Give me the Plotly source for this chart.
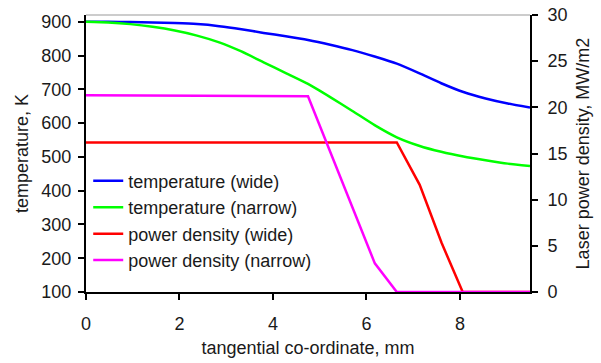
import plotly.graph_objects as go

# Data
x_temp = [0, 0.475, 0.95, 1.425, 1.9, 2.375, 2.85, 3.325, 3.8, 4.275, 4.75,
          5.225, 5.7, 6.175, 6.65, 7.125, 7.6, 8.075, 8.55, 9.025, 9.5]
temp_wide = [900, 900, 899, 898, 896, 893, 887, 878, 867, 857, 846,
             832, 816, 797, 776, 748, 718, 692, 673, 658, 646]
temp_narrow = [900, 898, 893, 885, 874, 859, 839, 812, 780, 748, 716,
               677, 636, 594, 558, 533, 515, 501, 490, 480, 473]

x_pw_wide = [0, 6.65, 7.14, 7.61, 8.06, 9.5]
pw_wide = [16.2, 16.2, 11.6, 5.3, 0, 0]
x_pw_narrow = [0, 4.75, 6.18, 6.65, 9.5]
pw_narrow = [21.3, 21.2, 3.1, 0, 0]

FONT = "Liberation Sans, Arial, sans-serif"
TXT = "#1a1a1a"

fig = go.Figure()
fig.add_trace(go.Scatter(x=x_temp, y=temp_wide, name="temperature (wide)", mode="lines",
                         line=dict(color="#0000FF", width=2.5, shape="spline", smoothing=0.5)))
fig.add_trace(go.Scatter(x=x_temp, y=temp_narrow, name="temperature (narrow)", mode="lines",
                         line=dict(color="#00FF00", width=2.5, shape="spline", smoothing=0.5)))
fig.add_trace(go.Scatter(x=x_pw_wide, y=pw_wide, name="power density (wide)", mode="lines",
                         yaxis="y2", line=dict(color="#FF0000", width=2.5)))
fig.add_trace(go.Scatter(x=x_pw_narrow, y=pw_narrow, name="power density (narrow)", mode="lines",
                         yaxis="y2", line=dict(color="#FF00FF", width=2.5)))

axis_common = dict(showgrid=False, zeroline=False, showline=True, linecolor="black", linewidth=2,
                   ticks="outside", ticklen=6, tickwidth=1.5, tickcolor="black", automargin=False,
                   tickfont=dict(family=FONT, size=18, color=TXT))

fig.update_layout(
    width=601, height=363,
    margin=dict(l=86, r=71, t=15, b=71),
    paper_bgcolor="white", plot_bgcolor="white",
    font=dict(family=FONT, size=18, color=TXT),
    xaxis=dict(range=[0, 9.5], dtick=2, tick0=0, ticklabelstandoff=8,
               title=dict(text="tangential co-ordinate, mm", font=dict(family=FONT, size=18, color=TXT), standoff=9),
               **axis_common),
    yaxis=dict(range=[100, 920], tickvals=[100, 200, 300, 400, 500, 600, 700, 800, 900],
               ticklabelstandoff=3,
               title=dict(text="temperature, K", font=dict(family=FONT, size=18, color=TXT), standoff=8),
               **axis_common),
    yaxis2=dict(range=[0, 30], dtick=5, overlaying="y", side="right", ticklabelstandoff=6,
                title=dict(text="Laser power density, MW/m2", font=dict(family=FONT, size=18, color=TXT), standoff=10),
                **axis_common),
    legend=dict(x=0.005, y=0.467, xanchor="left", yanchor="top", bgcolor="rgba(0,0,0,0)",
                font=dict(family=FONT, size=18, color=TXT), tracegroupgap=0, itemwidth=30),
    showlegend=True,
)
fig.add_shape(type="line", xref="paper", yref="paper", x0=0, x1=1, y0=1, y1=1,
              line=dict(color="#999999", width=1))

fig.write_html("out.html")
